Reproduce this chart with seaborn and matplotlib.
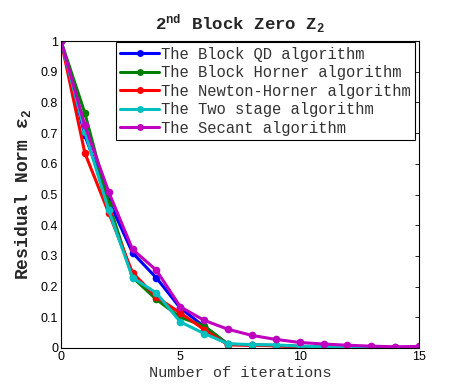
import matplotlib
matplotlib.use("Agg")
import matplotlib.pyplot as plt
import seaborn as sns
import pandas as pd
from matplotlib.lines import Line2D

iterations = list(range(16))
block_qd = [1, 0.693, 0.48, 0.31, 0.228, 0.13, 0.07, 0.012, 0.010, 0.008, 0.005, 0.003, 0.002, 0.002, 0.001, 0.001]
block_horner = [1, 0.765, 0.47, 0.23, 0.158, 0.10, 0.072, 0.012, 0.010, 0.008, 0.005, 0.003, 0.002, 0.002, 0.001, 0.001]
newton_horner = [1, 0.635, 0.44, 0.245, 0.166, 0.114, 0.06, 0.010, 0.009, 0.007, 0.005, 0.003, 0.002, 0.002, 0.001, 0.001]
two_stage = [1, 0.704, 0.448, 0.229, 0.179, 0.085, 0.047, 0.014, 0.011, 0.010, 0.006, 0.004, 0.003, 0.002, 0.002, 0.002]
secant = [1, 0.725, 0.508, 0.321, 0.253, 0.134, 0.090, 0.061, 0.041, 0.028, 0.018, 0.013, 0.009, 0.006, 0.004, 0.005]

labels = ["The Block QD algorithm", "The Block Horner algorithm",
          "The Newton-Horner algorithm", "The Two stage algorithm",
          "The Secant algorithm"]
series = [block_qd, block_horner, newton_horner, two_stage, secant]
colors = ["#0000ff", "#008000", "#ff0000", "#00bfbf", "#bf00bf"]

rows = []
for lab, vals in zip(labels, series):
    for x, v in zip(iterations, vals):
        rows.append({"iter": x, "val": v, "alg": lab})
df = pd.DataFrame(rows)

sns.set_style("white")
plt.rcParams["font.family"] = ["Liberation Sans", "DejaVu Sans"]
plt.rcParams["mathtext.fontset"] = "custom"
plt.rcParams["mathtext.rm"] = "Liberation Mono:bold"
plt.rcParams["mathtext.it"] = "Liberation Mono:bold"

fig = plt.figure(figsize=(4.63, 3.92), dpi=100)
ax = fig.add_axes([61/463, 44/392, 358/463, 307/392])

sns.lineplot(data=df, x="iter", y="val", hue="alg", palette=colors,
             hue_order=labels, marker="o", markersize=5.5, markeredgewidth=0,
             linewidth=2.2, ax=ax, legend=False)

ax.set_xlim(0, 15)
ax.set_ylim(0, 1)
ax.set_xticks([0, 5, 10, 15])
ax.set_yticks([i/10 for i in range(11)])
ax.set_yticklabels(["0", "0.1", "0.2", "0.3", "0.4", "0.5", "0.6", "0.7", "0.8", "0.9", "1"])
ax.tick_params(direction="in", length=3, labelsize=9, top=True, right=True,
               pad=2, width=0.6, colors="black")
for s in ax.spines.values():
    s.set_visible(True)
    s.set_color("black")
    s.set_linewidth(0.8)

ax.set_xlabel("Number of iterations", family=["Liberation Mono"], fontsize=11,
              labelpad=2, color="#333333")
ax.set_ylabel(r"Residual Norm $\varepsilon_{2}$", family=["Liberation Mono"],
              fontsize=13, fontweight="bold", labelpad=6)
ax.set_title(r"2$^{\mathregular{nd}}$ Block Zero Z$_{\mathregular{2}}$",
             family=["Liberation Mono"], fontsize=12.5, fontweight="bold", pad=8)

handles = [Line2D([0], [0], color=c, marker="o", markersize=5, markeredgewidth=0, linewidth=2.2)
           for c in colors]
leg = ax.legend(handles, labels, loc="upper right", bbox_to_anchor=(0.99, 0.996),
                prop={"family": "Liberation Mono", "size": 11.2},
                frameon=True, fancybox=False, framealpha=1, edgecolor="black",
                handlelength=2.5, handletextpad=0.12, labelspacing=0.22,
                borderpad=0.3, borderaxespad=0.0)
for t in leg.get_texts():
    t.set_color("#333333")
leg.get_frame().set_linewidth(0.8)

fig.savefig("out.png", dpi=100, facecolor="white")
